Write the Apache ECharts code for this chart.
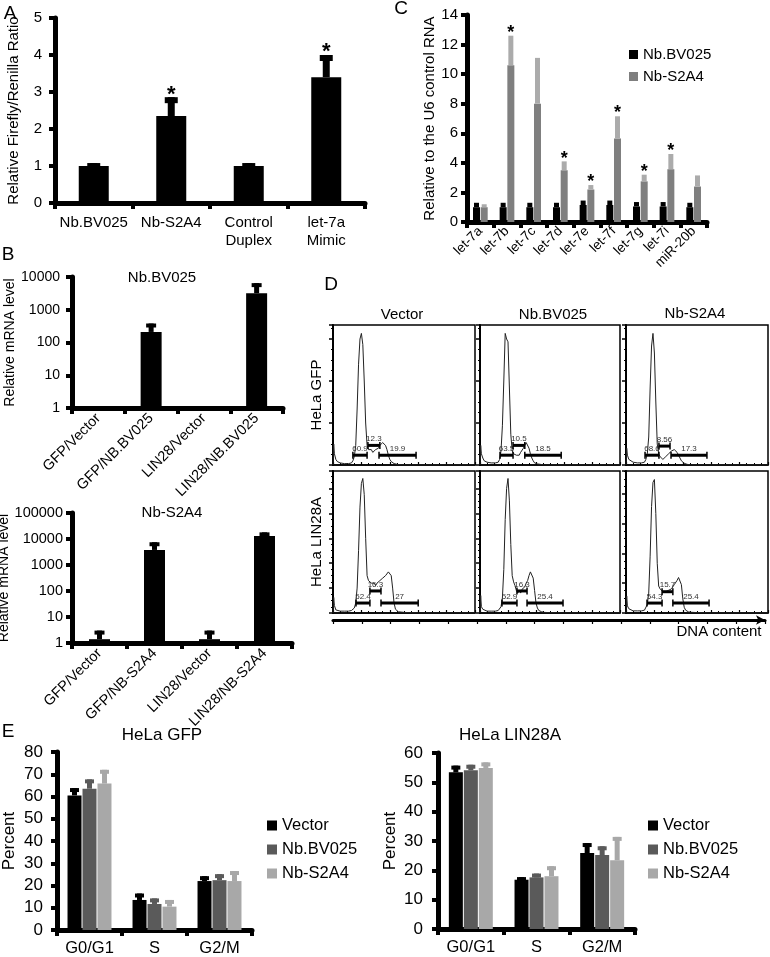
<!DOCTYPE html>
<html><head><meta charset="utf-8">
<script src="https://cdn.jsdelivr.net/npm/echarts@6/dist/echarts.min.js"></script>
<style>html,body{margin:0;padding:0;background:#fff}#c{width:770px;height:957px}</style>
</head><body><div id="c"></div>
<script>
const FONT = 'Liberation Sans, Arial, sans-serif';

// ---- Panel A ----
const catsA = ['Nb.BV025', 'Nb-S2A4', 'Control\nDuplex', 'let-7a\nMimic'];
const valsA = [1.0, 2.35, 1.0, 3.4];
const errA = [1.08, 2.86, 1.08, 4.0];
const starA = [0, 1, 0, 1];

// ---- Panel B ----
const catsB1 = ['GFP/Vector', 'GFP/NB.BV025', 'LIN28/Vector', 'LIN28/NB.BV025'];
const valsB1 = [1, 210, 1, 3200];
const errB1 = [null, 380, null, 6500];
const catsB2 = ['GFP/Vector', 'GFP/NB-S2A4', 'LIN28/Vector', 'LIN28/NB-S2A4'];
const valsB2 = [1.4, 3800, 1.4, 13000];
const errB2 = [3, 7500, 3, 18000];

// ---- Panel C ----
const catsC = ['let-7a', 'let-7b', 'let-7c', 'let-7d', 'let-7e', 'let-7f', 'let-7g', 'let-7i', 'miR-20b'];
const bvC = [1.0, 1.0, 1.0, 1.0, 1.15, 1.15, 1.05, 1.05, 1.0];
const bvErrC = [1.3, 1.3, 1.3, 1.3, 1.45, 1.45, 1.35, 1.35, 1.3];
const s2C = [1.0, 10.6, 8.0, 3.5, 2.2, 5.65, 2.75, 3.57, 2.4];
const s2ErrC = [1.2, 12.6, 11.1, 4.1, 2.5, 7.15, 3.2, 4.6, 3.15];
const starC = [0, 1, 0, 1, 1, 1, 1, 1, 0];

// ---- Panel D (DNA content histograms) ----
const histX = [0, 0.5, 1, 2, 3, 5, 8, 11, 13, 14, 15, 16, 17, 18, 19, 20, 21, 22, 23, 24, 25, 26, 27, 28, 29, 30, 31, 32, 33, 34, 35, 36, 37, 38, 39, 40, 41, 42, 43, 44, 46, 50, 60, 100];
const histGfpVector = [0, 15, 8, 4, 2.5, 1.5, 1, 1, 1.5, 3, 6, 14, 40, 72, 90, 94, 86, 60, 30, 14, 11, 10, 11, 9, 10, 11, 10, 12, 14, 15, 16, 15, 14, 11, 7, 4, 2.5, 1.5, 1, 0.5, 0.3, 0, 0, 0];
const histGfpBV = [0, 14, 8, 5, 3, 2, 1.5, 1.5, 2, 4, 10, 28, 60, 94, 90, 88, 55, 22, 10, 8, 9, 7, 8, 7, 9, 10, 12, 14, 16, 15, 12, 8, 5, 3, 1.5, 1, 0.8, 0.5, 0.5, 0.3, 0, 0, 0, 0];
const histGfpS2 = [0, 12, 7, 4, 3, 2, 1.5, 1.5, 2, 4, 8, 20, 55, 85, 94, 80, 45, 15, 8, 6, 5, 4, 5, 6, 7, 8, 9, 10, 10, 11, 10, 9, 7, 5, 3, 2, 1.2, 0.8, 0.5, 0.3, 0, 0, 0, 0];
const histLinVector = [0, 12.5, 6, 2.5, 2, 1.5, 1.5, 1.5, 2, 2.5, 4, 8, 20, 50, 85, 104, 108, 95, 60, 30, 26, 25, 24, 23, 24, 22, 24, 25, 26, 27, 28, 29, 30, 31, 33, 33, 30, 20, 8, 3, 1, 0.5, 0, 0];
const histLinBV = [0, 14, 5, 3, 2, 1.5, 1.5, 1.5, 2, 3, 5, 12, 35, 75, 100, 108, 90, 55, 30, 25, 22, 18, 16, 18, 16, 19, 18, 21, 24, 26, 30, 33, 33, 28, 18, 8, 4, 2, 1.5, 1, 0.5, 0.3, 0, 0];
const histLinS2 = [0, 12, 5, 3, 2, 1.5, 1.5, 1.5, 2, 3, 6, 14, 40, 75, 92, 94, 70, 35, 19, 17, 16, 15, 14, 15, 14, 16, 15, 17, 18, 20, 21, 23, 25, 25, 20, 10, 4, 2, 1, 0.8, 0.5, 0.3, 0, 0];
// gates: [start, end, level, percent label]
const gateGfpVector = [[14, 24, 7, '60.9'], [24.6, 33, 14, '12.3'], [32.4, 58.5, 7, '19.9']];
const gateGfpBV = [[14.3, 23.6, 7, '63.5'], [23.6, 32, 14, '10.5'], [32, 58, 7, '18.5']];
const gateGfpS2 = [[13.4, 23.2, 7, '68.6'], [23.2, 31, 13.5, '8.56'], [31.7, 57, 7, '17.3']];
const gateLinVector = [[16.2, 26, 8, '52.4'], [26, 33.8, 17.7, '16.3'], [33.8, 60, 8, '27']];
const gateLinBV = [[15.7, 26.4, 8, '52.9'], [26.4, 33.6, 17.7, '16.3'], [33.6, 59.3, 8, '25.4']];
const gateLinS2 = [[14.8, 25.4, 7, '54.3'], [25.4, 33, 15, '15.7'], [33, 58.5, 7, '25.4']];
const colTitlesD = ['Vector', 'Nb.BV025', 'Nb-S2A4'];
const rowTitlesD = ['HeLa GFP', 'HeLa LIN28A'];

// ---- Panel E ----
const catsE = ['G0/G1', 'S', 'G2/M'];
const seriesE = ['Vector', 'Nb.BV025', 'Nb-S2A4'];
const gfpVector = [60.5, 13.5, 22.0];
const gfpVectorErr = [63.8, 16.4, 24.2];
const gfpBV = [63.5, 11.7, 22.4];
const gfpBVErr = [67.7, 14.2, 25.1];
const gfpS2 = [65.8, 10.5, 22.0];
const gfpS2Err = [72.0, 13.5, 26.5];
const linVector = [53.4, 16.8, 25.9];
const linVectorErr = [55.7, 17.7, 29.3];
const linBV = [54.1, 17.6, 25.2];
const linBVErr = [56.0, 18.9, 28.2];
const linS2 = [54.9, 18.0, 23.4];
const linS2Err = [56.8, 21.4, 31.4];

// ================= building the option =================
const colorsE = ['#000000', '#5a5a5a', '#a8a8a8'];

function catAxis(gi, data, o) {
  return {
    gridIndex: gi, type: 'category', data: data, boundaryGap: true,
    axisLine: { show: true, lineStyle: { color: '#000', width: o.lw || 5 } },
    axisTick: { show: true, alignWithLabel: false, interval: 0, length: o.tl || 6, lineStyle: { color: '#000', width: 4 } },
    axisLabel: { interval: 0, color: '#000', fontFamily: FONT, fontSize: o.fs, rotate: o.rot || 0, margin: o.margin, lineHeight: o.lh },
    splitLine: { show: false }
  };
}
function valAxis(gi, o) {
  const a = {
    gridIndex: gi, type: o.type || 'value', min: o.min, max: o.max,
    axisLine: { show: true, lineStyle: { color: '#000', width: o.lw || 5 } },
    axisTick: { show: true, length: o.tl || 6, lineStyle: { color: '#000', width: 4 } },
    axisLabel: { color: '#000', fontFamily: FONT, fontSize: o.fs, margin: o.margin },
    splitLine: { show: false },
    name: o.name, nameLocation: 'middle', nameGap: o.nameGap, nameRotate: 90,
    nameTextStyle: { color: '#000', fontFamily: FONT, fontSize: o.nfs || 14 }
  };
  if (o.interval != null) a.interval = o.interval;
  if (o.type === 'log') { a.logBase = 10; a.axisLabel.formatter = v => String(Math.round(v)); }
  return a;
}

function errSeries(gi, vals, errs, stars, o) {
  return {
    type: 'custom', xAxisIndex: gi, yAxisIndex: gi, z: 5, silent: true,
    data: vals.map((v, i) => [i, v, errs[i] == null ? v : errs[i], stars ? stars[i] : 0]),
    encode: { x: 0, y: [1, 2] },
    renderItem: function (params, api) {
      const i = api.value(0), v = api.value(1), e = api.value(2), s = api.value(3);
      if (!(e > v)) return null;
      const p0 = api.coord([i, v]);
      const p1 = api.coord([i, e]);
      const x = p0[0] + (o.offset || 0);
      const ch = [{ type: 'rect', shape: { x: x - o.stemW / 2, y: p1[1], width: o.stemW, height: p0[1] - p1[1] }, style: { fill: o.color } }];
      if (o.capW) ch.push({ type: 'rect', shape: { x: x - o.capW / 2, y: p1[1], width: o.capW, height: o.capH }, style: { fill: o.color } });
      if (s) ch.push({ type: 'text', style: { text: '*', x: x, y: p1[1] - o.starGap + 0.29 * o.starSize, align: 'center', verticalAlign: 'middle', fontSize: o.starSize, fontWeight: 'bold', fontFamily: FONT, fill: '#000' } });
      return { type: 'group', children: ch };
    }
  };
}

function gateSeries(ai, gates) {
  return {
    type: 'custom', xAxisIndex: ai, yAxisIndex: ai, z: 6, silent: true,
    data: gates.map(g => [g[0], g[1], g[2]]),
    encode: { x: [0, 1], y: 2 },
    renderItem: function (params, api) {
      const g = gates[params.dataIndex];
      const p1 = api.coord([api.value(0), api.value(2)]);
      const p2 = api.coord([api.value(1), api.value(2)]);
      return { type: 'group', children: [
        { type: 'line', shape: { x1: p1[0], y1: p1[1], x2: p2[0], y2: p2[1] }, style: { stroke: '#000', lineWidth: 3 } },
        { type: 'line', shape: { x1: p1[0], y1: p1[1] - 3.5, x2: p1[0], y2: p1[1] + 3.5 }, style: { stroke: '#000', lineWidth: 1.5 } },
        { type: 'line', shape: { x1: p2[0], y1: p2[1] - 3.5, x2: p2[0], y2: p2[1] + 3.5 }, style: { stroke: '#000', lineWidth: 1.5 } },
        { type: 'text', style: { text: g[3], x: (p1[0] + p2[0]) / 2, y: p1[1] - 2.5, align: 'center', verticalAlign: 'bottom', fontSize: 8, fontFamily: FONT, fill: '#333' } }
      ] };
    }
  };
}

const grids = [
  { left: 55, top: 18, width: 310, height: 185 },   // 0 A
  { left: 467, top: 15, width: 240, height: 207 },  // 1 C
  { left: 72, top: 277, width: 211, height: 131 },  // 2 B1
  { left: 72, top: 513, width: 220, height: 130 }   // 3 B2
];
const dCols = [{ left: 333, width: 142 }, { left: 480, width: 140 }, { left: 626, width: 142 }];
const dRows = [{ top: 325, height: 140 }, { top: 471, height: 142 }];
const dYMax = [100, 100, 100, 114, 114, 100];
const dYInt = [30, 30, 30, 20, 20, 21];
dRows.forEach(r => dCols.forEach(c => grids.push({ left: c.left, top: r.top, width: c.width, height: r.height, show: true, borderColor: '#000', borderWidth: 1.5 })));
grids.push({ left: 333, top: 619, width: 432, height: 1 });   // 10 DNA content arrow
grids.push({ left: 57, top: 752, width: 195, height: 178 });  // 11 E1
grids.push({ left: 438, top: 753, width: 197, height: 176 }); // 12 E2
grids.forEach(g => { g.outerBoundsMode = 'none'; g.containLabel = false; });

const xAxes = [
  catAxis(0, catsA, { fs: 15, margin: 11, lh: 18 }),
  catAxis(1, catsC, { fs: 13.5, rot: 45, margin: 7 }),
  catAxis(2, catsB1, { fs: 14.5, rot: 45, margin: 8 }),
  catAxis(3, catsB2, { fs: 14.5, rot: 45, margin: 8 })
];
const yAxes = [
  valAxis(0, { min: 0, max: 5, interval: 1, fs: 15, margin: 13, name: 'Relative Firefly/Renilla Ratio', nameGap: 34, nfs: 15 }),
  valAxis(1, { min: 0, max: 14, interval: 2, fs: 15, margin: 9, name: 'Relative to the U6 control RNA', nameGap: 30, nfs: 15 }),
  valAxis(2, { type: 'log', min: 1, max: 10000, fs: 14, margin: 12, name: 'Relative mRNA level', nameGap: 55 }),
  valAxis(3, { type: 'log', min: 1, max: 100000, fs: 14.5, margin: 9, name: 'Relative mRNA level', nameGap: 56 })
];
const histsD = [histGfpVector, histGfpBV, histGfpS2, histLinVector, histLinBV, histLinS2];
const gatesD = [gateGfpVector, gateGfpBV, gateGfpS2, gateLinVector, gateLinBV, gateLinS2];
for (let k = 0; k < 6; k++) {
  const gi = 4 + k;
  xAxes.push({
    gridIndex: gi, type: 'value', min: 0, max: 100, interval: 20,
    axisLine: { show: true, lineStyle: { color: '#000', width: 1.5 } },
    axisTick: { show: true, inside: true, length: 3, lineStyle: { color: '#000', width: 1.2 } },
    minorTick: { show: true, splitNumber: 4, length: 2, lineStyle: { color: '#000', width: 1 } },
    axisLabel: { show: false }, splitLine: { show: false }
  });
  yAxes.push({
    gridIndex: gi, type: 'value', min: 0, max: dYMax[k], interval: dYInt[k],
    axisLine: { show: true, lineStyle: { color: '#000', width: 2 } },
    axisTick: { show: true, length: 4, lineStyle: { color: '#000', width: 1.5 } },
    minorTick: { show: true, splitNumber: 4, length: 2, lineStyle: { color: '#000', width: 1 } },
    axisLabel: { show: false }, splitLine: { show: false },
    name: (k % 3 === 0) ? rowTitlesD[k / 3] : '', nameLocation: 'middle', nameRotate: 90, nameGap: 9,
    nameTextStyle: { color: '#000', fontFamily: FONT, fontSize: 15 }
  });
}
xAxes.push({
  gridIndex: 10, type: 'value', min: 0, max: 150, interval: 10,
  axisLine: { show: true, lineStyle: { color: '#000', width: 3 }, symbol: ['none', 'arrow'], symbolSize: [7, 9] },
  axisTick: { show: true, length: 4, lineStyle: { color: '#000', width: 1.2 } },
  minorTick: { show: true, splitNumber: 4, length: 2, lineStyle: { color: '#000', width: 1 } },
  axisLabel: { show: false }, splitLine: { show: false }
});
yAxes.push({ gridIndex: 10, type: 'value', min: 0, max: 1, show: false });
xAxes.push(catAxis(11, catsE, { fs: 16.5, margin: 10 }));
xAxes.push(catAxis(12, catsE, { fs: 16.5, margin: 10 }));
yAxes.push(valAxis(11, { min: 0, max: 80, interval: 10, fs: 17, margin: 14, name: 'Percent', nameGap: 39, nfs: 17 }));
yAxes.push(valAxis(12, { min: 0, max: 60, interval: 10, fs: 17, margin: 15, name: 'Percent', nameGap: 39, nfs: 17 }));

const series = [];
// A
series.push({ type: 'bar', name: 'A', xAxisIndex: 0, yAxisIndex: 0, data: valsA, barWidth: 30, itemStyle: { color: '#000' } });
series.push(errSeries(0, valsA, errA, starA, { stemW: 7, capW: 13, capH: 6, color: '#000', starGap: 9, starSize: 22 }));
// C
series.push({ type: 'bar', name: 'C|Nb.BV025', xAxisIndex: 1, yAxisIndex: 1, data: bvC, barWidth: 7, barGap: '10%', itemStyle: { color: '#000' } });
series.push({ type: 'bar', name: 'C|Nb-S2A4', xAxisIndex: 1, yAxisIndex: 1, data: s2C, barWidth: 7, barGap: '10%', itemStyle: { color: '#7f7f7f' } });
series.push(errSeries(1, bvC, bvErrC, null, { offset: -3.85, stemW: 5, color: '#000' }));
series.push(errSeries(1, s2C, s2ErrC, starC, { offset: 3.85, stemW: 5, color: '#ababab', starGap: 8, starSize: 18 }));
// B
series.push({ type: 'bar', name: 'B1', xAxisIndex: 2, yAxisIndex: 2, data: valsB1, barWidth: 21, itemStyle: { color: '#000' } });
series.push(errSeries(2, valsB1, errB1, null, { stemW: 5, capW: 10, capH: 4, color: '#000' }));
series.push({ type: 'bar', name: 'B2', xAxisIndex: 3, yAxisIndex: 3, data: valsB2, barWidth: 21, itemStyle: { color: '#000' } });
series.push(errSeries(3, valsB2, errB2, null, { stemW: 5, capW: 10, capH: 4, color: '#000' }));
// D
for (let k = 0; k < 6; k++) {
  series.push({ type: 'line', xAxisIndex: 4 + k, yAxisIndex: 4 + k, data: histX.map((x, i) => [x, histsD[k][i]]), symbol: 'none', lineStyle: { color: '#222', width: 1 }, z: 3, silent: true });
  series.push(gateSeries(4 + k, gatesD[k]));
}
// E
const eGfp = [[gfpVector, gfpVectorErr], [gfpBV, gfpBVErr], [gfpS2, gfpS2Err]];
const eLin = [[linVector, linVectorErr], [linBV, linBVErr], [linS2, linS2Err]];
const eOff = [-15, 0, 15];
[[11, eGfp], [12, eLin]].forEach(([gi, sets]) => {
  sets.forEach((s, j) => {
    series.push({ type: 'bar', name: 'E|' + seriesE[j], xAxisIndex: gi, yAxisIndex: gi, data: s[0], barWidth: 14, barGap: '7%', itemStyle: { color: colorsE[j] } });
  });
  sets.forEach((s, j) => {
    series.push(errSeries(gi, s[0], s[1], null, { offset: eOff[j], stemW: 5, capW: 9, capH: 4, color: colorsE[j] }));
  });
});

const legTxt = { color: '#000', fontFamily: FONT };
const legends = [
  { data: ['C|Nb.BV025', 'C|Nb-S2A4'], orient: 'vertical', left: 629, top: 47, itemWidth: 9, itemHeight: 9, itemGap: 7, icon: 'rect', padding: 0, selectedMode: false, textStyle: Object.assign({ fontSize: 15 }, legTxt), formatter: n => n.split('|')[1] },
  { data: seriesE.map(s => 'E|' + s), orient: 'vertical', left: 267, top: 817, itemWidth: 10, itemHeight: 10, itemGap: 7, icon: 'rect', padding: 0, selectedMode: false, textStyle: Object.assign({ fontSize: 16.5 }, legTxt), formatter: n => n.split('|')[1] },
  { data: seriesE.map(s => 'E|' + s), orient: 'vertical', left: 648, top: 817, itemWidth: 10, itemHeight: 10, itemGap: 7, icon: 'rect', padding: 0, selectedMode: false, textStyle: Object.assign({ fontSize: 16.5 }, legTxt), formatter: n => n.split('|')[1] }
];

function txt(t, x, y, fs) {
  return { type: 'text', x: x, y: y, silent: true, style: { text: t, fontSize: fs, fontFamily: FONT, fill: '#000', align: 'center', verticalAlign: 'middle' } };
}
const graphics = [
  txt('A', 10, 14, 19), txt('B', 8, 255, 19), txt('C', 401, 9, 19), txt('D', 331, 285, 19), txt('E', 8, 732, 19),
  txt('Nb.BV025', 162, 278, 15), txt('Nb-S2A4', 172, 513, 15),
  txt(colTitlesD[0], 402, 315, 15), txt(colTitlesD[1], 553, 315, 15), txt(colTitlesD[2], 695, 314, 15),
  txt('DNA content', 719, 632, 15),
  txt('HeLa GFP', 162, 735, 17), txt('HeLa LIN28A', 510, 735, 17)
];

const chart = echarts.init(document.getElementById('c'), null, { renderer: 'canvas' });
chart.setOption({
  animation: false,
  backgroundColor: '#fff',
  textStyle: { fontFamily: FONT },
  grid: grids, xAxis: xAxes, yAxis: yAxes, series: series, legend: legends, graphic: graphics
});
</script></body></html>
